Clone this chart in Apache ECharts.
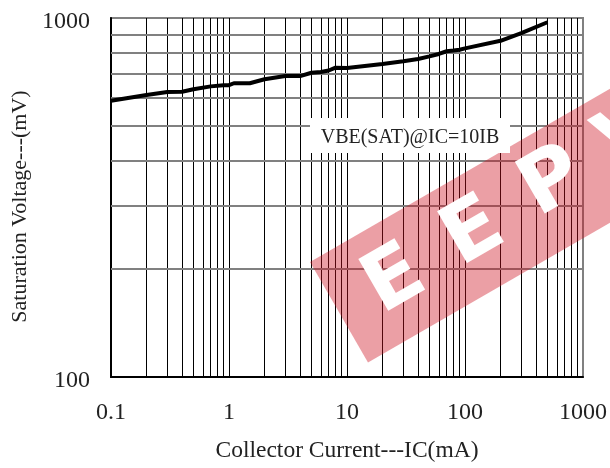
<!DOCTYPE html>
<html>
<head>
<meta charset="utf-8">
<script src="https://cdn.jsdelivr.net/npm/echarts@6/dist/echarts.min.js"></script>
<style>html,body{margin:0;padding:0;background:#fff}#c{width:610px;height:468px}</style>
</head>
<body>
<div id="c"></div>
<script>
// Curve data: Collector current (mA) vs VBE(SAT) (mV)
var currentMA = [0.1, 0.2, 0.3, 0.4, 0.5, 0.7, 0.9, 1, 1.1, 1.5, 2, 3, 4, 5, 6, 7, 8, 10, 20, 30, 40, 50, 60, 70, 80, 90, 100, 200, 300, 500];
var vbeSat    = [588, 610, 622, 623, 633, 645, 650, 650, 658, 658, 675, 689, 689, 704, 707, 714, 727, 726, 745, 758, 769, 782, 794, 808, 812, 816, 823, 864, 907, 973];
// Grid line values
var xGridValues = [0.2,0.3,0.4,0.5,0.6,0.7,0.8,0.9,1,2,3,4,5,6,7,8,9,10,20,30,40,50,60,70,80,90,100,200,300,400,500,600,700,800,900];
var yGridValues = [200,300,400,500,600,700,800,900];
var xTickLabels = [0.1, 1, 10, 100, 1000];
var yTickLabels = [100, 1000];
var annotationText = 'VBE(SAT)@IC=10IB';
var xTitle = 'Collector Current---IC(mA)';
var yTitle = 'Saturation Voltage---(mV)';

var FONT = '"Liberation Serif", "DejaVu Serif", serif';
var chart = echarts.init(document.getElementById('c'), null, {renderer: 'canvas'});

var seriesData = currentMA.map(function (x, i) { return [x, vbeSat[i]]; });
var wmFont = 'bold 82px "DejaVu Sans"';

chart.setOption({
  animation: false,
  backgroundColor: '#fff',
  grid: {left: 111, right: 25, top: 18, bottom: 87, show: true, borderColor: '#808080', borderWidth: 2, backgroundColor: 'transparent'},
  xAxis: {
    type: 'log', logBase: 10, min: 0.1, max: 1000,
    name: xTitle, nameLocation: 'middle', nameGap: 62,
    nameTextStyle: {fontFamily: FONT, fontSize: 23.5, color: '#222'},
    axisLine: {show: true, lineStyle: {color: '#000', width: 2}},
    axisTick: {show: false},
    splitLine: {show: false},
    axisLabel: {
      margin: 24, fontFamily: FONT, fontSize: 24, color: '#222',
      formatter: function (v) { return xTickLabels.indexOf(+v) >= 0 ? String(+v) : ''; }
    }
  },
  yAxis: {
    type: 'log', logBase: 10, min: 100, max: 1000,
    name: yTitle, nameLocation: 'middle', nameGap: 80, nameRotate: 90,
    nameTextStyle: {fontFamily: FONT, fontSize: 22, color: '#222', padding: [0, 18, 0, 0]},
    axisLine: {show: true, lineStyle: {color: '#000', width: 2}},
    axisTick: {show: false},
    splitLine: {show: false},
    axisLabel: {
      margin: 21, fontFamily: FONT, fontSize: 24, color: '#222',
      formatter: function (v) { return yTickLabels.indexOf(+v) >= 0 ? '{a|' + (+v) + '}' : ''; },
      rich: {a: {fontFamily: FONT, fontSize: 24, color: '#222', padding: [7, 0, 0, 0]}}
    }
  },
  series: [
    {
      type: 'line', data: [], silent: true, z: 1,
      markLine: {
        silent: true, symbol: ['none', 'none'], label: {show: false},
        lineStyle: {color: '#000', width: 1, type: 'solid'},
        data: xGridValues.map(function (v) { return {xAxis: v}; })
      }
    },
    {
      type: 'line', data: [], silent: true, z: 2,
      markLine: {
        silent: true, symbol: ['none', 'none'], label: {show: false},
        lineStyle: {color: '#808080', width: 2, type: 'solid'},
        data: yGridValues.map(function (v) { return {yAxis: v}; })
      }
    },
    {
      type: 'line', data: seriesData, showSymbol: false, z: 5,
      lineStyle: {color: '#000', width: 4},
      itemStyle: {color: '#000'}
    }
  ],
  graphic: [
    {
      type: 'group', x: 310, y: 262, rotation: Math.PI / 6, z: 50, silent: true,
      children: [
        {type: 'rect', z: 50, shape: {x: 0, y: 0, width: 520, height: 116}, style: {fill: 'rgba(205,15,30,0.4)'}},
        {type: 'text', z: 51, x: 64, y: 60, style: {text: 'E', fill: '#fff', font: wmFont, align: 'center', verticalAlign: 'middle'}},
        {type: 'text', z: 51, x: 156, y: 58, style: {text: 'E', fill: '#fff', font: wmFont, align: 'center', verticalAlign: 'middle'}},
        {type: 'text', z: 51, x: 250, y: 54, style: {text: 'P', fill: '#fff', font: wmFont, align: 'center', verticalAlign: 'middle'}},
        {type: 'text', z: 51, x: 342, y: 54, style: {text: 'V', fill: '#fff', font: wmFont, align: 'center', verticalAlign: 'middle'}}
      ]
    },
    {
      type: 'group', x: 310, y: 118, z: 100, silent: true,
      children: [
        {type: 'rect', z: 100, shape: {x: 0, y: 0, width: 200, height: 35}, style: {fill: '#fff'}},
        {type: 'text', z: 101, x: 100, y: 20, style: {text: annotationText, fill: '#222', font: '20px ' + FONT, align: 'center', verticalAlign: 'middle'}}
      ]
    }
  ]
});
</script>
</body>
</html>
